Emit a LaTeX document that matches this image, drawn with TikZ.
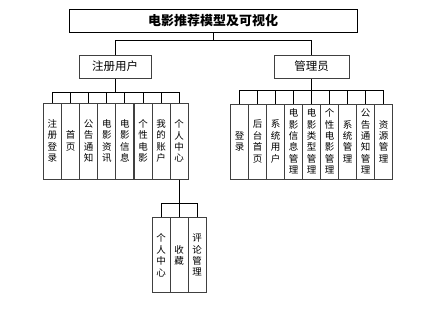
\documentclass[tikz,border=0pt]{standalone}
\usepackage{fontspec}
\setmainfont{Noto Sans CJK SC}
\begin{document}
\begin{tikzpicture}[x=1pt,y=-1pt,
  frame/.style={draw=black!75,line width=1pt,fill=white,inner sep=0pt,align=center},
  leaf/.style={frame,minimum width=18pt,minimum height=75pt,font=\fontsize{9.5}{11.4}\selectfont},
  mid/.style={frame,minimum height=23pt,font=\fontsize{11.5}{13}\selectfont},
  wire/.style={draw=black,line width=0.8pt}]
\useasboundingbox (0,0) rectangle (428,309);
\node[frame,draw=black,minimum width=288pt,minimum height=23pt,font=\fontsize{13}{15}\selectfont\bfseries] (t) at (213,20.5) {电影推荐模型及可视化};
\node[mid,minimum width=72pt] (u) at (115,66.5) {注册用户};
\node[mid,minimum width=75pt] (a) at (311.5,66.5) {管理员};
\coordinate (bt) at (213,40);
\draw[wire] (t.south) -- (t.south|-bt);
\draw[wire] (t.south|-bt) -| (u.north);
\draw[wire] (t.south|-bt) -| (a.north);
% user children
\foreach \i/\txt in {0/注\\册\\登\\录,1/首\\页,2/公\\告\\通\\知,3/电\\影\\资\\讯,4/电\\影\\信\\息,5/个\\性\\电\\影,6/我\\的\\账\\户,7/个\\人\\中\\心}{
  \node[leaf,minimum height=76pt] (u\i) at ({52.4+18.12*\i},141) {\txt};
}
\coordinate (bu) at (115,92);
\draw[wire] (u.south) -- (u.south|-bu);
\foreach \i in {0,...,7}{\draw[wire] (u.south|-bu) -| (u\i.north);}
% admin children
\foreach \i/\txt in {0/登\\录,1/后\\台\\首\\页,2/系\\统\\用\\户,3/电\\影\\信\\息\\管\\理,4/电\\影\\类\\型\\管\\理,5/个\\性\\电\\影\\管\\理,6/系\\统\\管\\理,7/公\\告\\通\\知\\管\\理,8/资\\源\\管\\理}{
  \node[leaf] (a\i) at ({239.7+18*\i},141.5) {\txt};
}
\coordinate (ba) at (311.5,90.5);
\draw[wire] (a.south) -- (a.south|-ba);
\foreach \i in {0,...,8}{\draw[wire] (a.south|-ba) -| (a\i.north);}
% sub children
\foreach \i/\txt in {0/个\\人\\中\\心,1/收\\藏,2/评\\论\\管\\理}{
  \node[leaf] (s\i) at ({161+18*\i},255.2) {\txt};
}
\coordinate (bs) at (179,203);
\draw[wire] (u7.south) -- (u7.south|-bs);
\foreach \i in {0,...,2}{\draw[wire] (u7.south|-bs) -| (s\i.north);}
\end{tikzpicture}
\end{document}
